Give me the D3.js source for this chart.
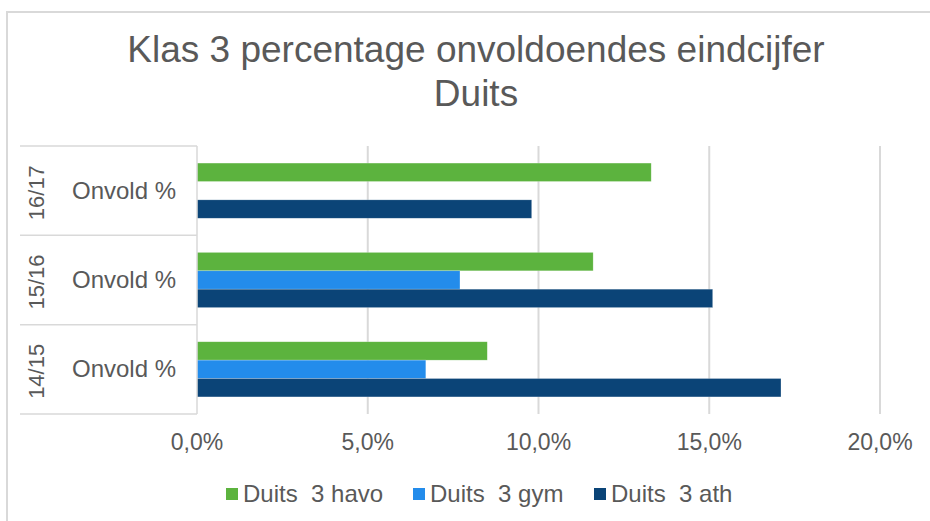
<!DOCTYPE html>
<html>
<head>
<meta charset="utf-8">
<script src="https://cdn.jsdelivr.net/npm/d3@7"></script>
<style>
  body { margin: 0; background: #fff; }
  text { font-family: "Liberation Sans", Arial, sans-serif; fill: #595959; }
</style>
</head>
<body>
<svg id="chart" width="930" height="521"></svg>
<script>
// data
const years = ["16/17", "15/16", "14/15"];
const subLabel = "Onvold %";
const seriesNames = ["Duits  3 havo", "Duits  3 gym", "Duits  3 ath"];
const havo = [0.133, 0.116, 0.085];
const gym = [null, 0.077, 0.067];
const ath = [0.098, 0.151, 0.171];
const ticks = [0, 0.05, 0.10, 0.15, 0.20];
const colors = ["#5cb33e", "#238ceb", "#0b4477"];

const svg = d3.select("#chart"),
  width = +svg.attr("width"),
  height = +svg.attr("height");

const rows = years.map((y, i) => ({ year: y, vals: [havo[i], gym[i], ath[i]] }));

// chart border
svg.append("rect")
  .attr("x", 7).attr("y", 12)
  .attr("width", width + 20).attr("height", height + 20)
  .attr("fill", "none").attr("stroke", "#d9d9d9").attr("stroke-width", 2);

// title
const title = svg.append("text")
  .attr("text-anchor", "middle")
  .style("font-size", "37px");
title.append("tspan").attr("x", 476).attr("y", 62).text("Klas 3 percentage onvoldoendes eindcijfer");
title.append("tspan").attr("x", 476).attr("y", 106).text("Duits");

// scales
const x = d3.scaleLinear().domain([0, 0.2]).range([197, 880]);
const y = d3.scaleBand().domain(years).range([146, 414]).padding(0);
const yInner = d3.scaleBand().domain(d3.range(3)).range([0, y.bandwidth()])
  .paddingInner(0).paddingOuter(0.93);

// gridlines
svg.append("g")
  .selectAll("line")
  .data(ticks.slice(1))
  .join("line")
  .attr("x1", d => x(d)).attr("x2", d => x(d))
  .attr("y1", 146).attr("y2", 414)
  .attr("stroke", "#d9d9d9").attr("stroke-width", 2);

// x tick labels
svg.append("g")
  .selectAll("text")
  .data(ticks)
  .join("text")
  .attr("x", d => x(d)).attr("y", 450)
  .attr("text-anchor", "middle")
  .style("font-size", "23px")
  .text(d => d3.format(".1f")(d * 100).replace(".", ",") + "%");

// bars
const group = svg.append("g")
  .selectAll("g")
  .data(rows)
  .join("g")
  .attr("transform", d => `translate(0,${y(d.year)})`);

group.selectAll("rect")
  .data(d => d.vals.map((v, i) => ({ v: v, i: i })).filter(e => e.v != null))
  .join("rect")
  .attr("x", x(0))
  .attr("y", d => yInner(d.i))
  .attr("width", d => x(d.v) - x(0))
  .attr("height", yInner.bandwidth())
  .attr("fill", d => colors[d.i])
  .attr("stroke", "#ffffff").attr("stroke-opacity", 0.35).attr("stroke-width", 0.6);

// multi-level category axis
const axis = svg.append("g");
axis.selectAll("line.h")
  .data([146, 235.3, 324.7, 414])
  .join("line")
  .attr("class", "h")
  .attr("x1", 20).attr("x2", 197)
  .attr("y1", d => d).attr("y2", d => d)
  .attr("stroke", "#d9d9d9").attr("stroke-width", 1.5);
axis.append("line")
  .attr("x1", 197).attr("x2", 197).attr("y1", 146).attr("y2", 414)
  .attr("stroke", "#d9d9d9").attr("stroke-width", 1.5);

axis.selectAll("text.sub")
  .data(rows)
  .join("text")
  .attr("class", "sub")
  .attr("x", 124)
  .attr("y", d => y(d.year) + y.bandwidth() / 2 + 8)
  .attr("text-anchor", "middle")
  .style("font-size", "24px")
  .text(subLabel);

axis.selectAll("text.yr")
  .data(rows)
  .join("text")
  .attr("class", "yr")
  .attr("transform", d => `translate(44,${y(d.year) + y.bandwidth() / 2 + 2}) rotate(-90)`)
  .attr("text-anchor", "middle")
  .style("font-size", "22px")
  .text(d => d.year);

// legend
const legendX = [226, 413, 594];
const legend = svg.append("g")
  .selectAll("g")
  .data(seriesNames)
  .join("g")
  .attr("transform", (d, i) => `translate(${legendX[i]},488)`);
legend.append("rect")
  .attr("width", 12).attr("height", 12)
  .attr("fill", (d, i) => colors[i]);
legend.append("text")
  .attr("x", 17).attr("y", 14)
  .style("font-size", "24px")
  .style("white-space", "pre")
  .attr("xml:space", "preserve")
  .text(d => d);
</script>
</body>
</html>
